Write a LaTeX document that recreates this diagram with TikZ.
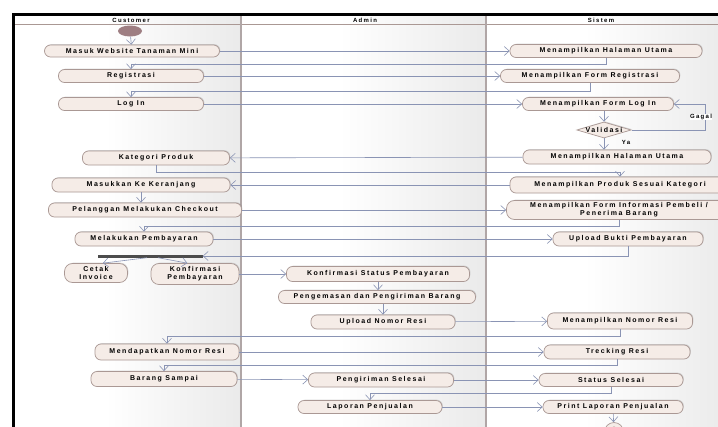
\documentclass[tikz,border=0pt]{standalone}
\usepackage{fontspec}
\newfontfamily\actfont{Liberation Sans}[LetterSpace=22]
\usetikzlibrary{arrows.meta,shapes.geometric,shadows}

\definecolor{actfill}{RGB}{245,236,231}
\definecolor{actline}{RGB}{170,152,148}
\definecolor{flowline}{RGB}{138,148,180}
\definecolor{lanesep}{RGB}{176,166,166}
\definecolor{startfill}{RGB}{158,126,130}
\pgfdeclarehorizontalshading{lane}{100bp}{color(0bp)=(white); color(45bp)=(white); color(100bp)=(black!15)}

\tikzset{
	act/.style={draw=actline, fill=actfill, rounded corners=6pt, line width=0.7pt, inner sep=0pt, align=center,
		font=\actfont\bfseries\fontsize{7}{8}\selectfont,
		drop shadow={shadow xshift=0.8pt, shadow yshift=0.8pt, opacity=0.3}},
	flow/.style={draw=flowline, line width=0.6pt, -{Straight Barb[length=5pt,width=9pt]}},
	lbl/.style={font=\actfont\bfseries\fontsize{6}{7}\selectfont, inner sep=0.5pt},
}

\begin{document}
\begin{tikzpicture}[x=1pt,y=1pt,yscale=-1,xscale=1]
	\useasboundingbox (0,0) rectangle (718,426);
	
	%Shape: Lanes
	\shade[shading=lane] (14,14) rectangle (241,430);
	\shade[shading=lane] (241,14) rectangle (486,430);
	\shade[shading=lane] (486,14) rectangle (730,430);
	\draw[actline, line width=0.7pt] (14,24) -- (730,24);
	\draw[lanesep, line width=2.5pt] (241,16) -- (241,430);
	\draw[lanesep, line width=2.5pt] (486,16) -- (486,430);
	\draw[black, line width=3pt] (13.5,430) -- (13.5,14) -- (730,14);
	
	% Text Node
	\node[lbl] (hcust) at (131,20) {Customer};
	\node[lbl] (hadm) at (365,20) {Admin};
	\node[lbl] (hsis) at (601,20) {Sistem};
	
	%Customer
	\node[ellipse, fill=startfill, minimum width=24pt, minimum height=11pt, inner sep=0pt] (start) at (130,31) {};
	\node[act, minimum width=175pt, minimum height=12pt] (masuk) at (132,51) {Masuk Website Tanaman Mini};
	\node[act, minimum width=145pt, minimum height=13pt] (regis) at (131,76) {Registrasi};
	\node[act, minimum width=145pt, minimum height=13pt] (login) at (131,104) {Log In};
	\node[act, minimum width=147pt, minimum height=14pt] (kategori) at (156,158) {Kategori Produk};
	\node[act, minimum width=178pt, minimum height=14pt] (keranjang) at (141,185) {Masukkan Ke Keranjang};
	\node[act, minimum width=193pt, minimum height=14pt] (checkout) at (145,210) {Pelanggan Melakukan Checkout};
	\node[act, minimum width=138pt, minimum height=14pt] (bayar) at (144,239) {Melakukan Pembayaran};
	\node[fill=black!70, minimum width=105pt, minimum height=3pt, inner sep=0pt] (bar) at (150,256) {};
	\node[act, rounded corners=8pt, minimum width=63pt, minimum height=19pt] (cetak) at (96,273) {Cetak\\Invoice};
	\node[act, rounded corners=8pt, minimum width=88pt, minimum height=21pt] (konfbayar) at (195,274) {Konfirmasi\\Pembayaran};
	\node[act, minimum width=144pt, minimum height=16pt] (dapatresi) at (167,352) {Mendapatkan Nomor Resi};
	\node[act, minimum width=146pt, minimum height=15pt] (sampai) at (164,379) {Barang Sampai};
	
	%Admin
	\node[act, minimum width=183pt, minimum height=15pt] (konfstatus) at (378,274) {Konfirmasi Status Pembayaran};
	\node[act, minimum width=197pt, minimum height=13pt] (kemas) at (377,297) {Pengemasan dan Pengiriman Barang};
	\node[act, minimum width=144pt, minimum height=14pt] (uploadresi) at (383,322) {Upload Nomor Resi};
	\node[act, minimum width=145pt, minimum height=14pt] (kirimselesai) at (381,380) {Pengiriman Selesai};
	\node[act, minimum width=144pt, minimum height=13pt] (laporan) at (370,407) {Laporan Penjualan};
	
	%Sistem
	\node[act, minimum width=192pt, minimum height=13pt] (halaman) at (606,51) {Menampilkan Halaman Utama};
	\node[act, minimum width=179pt, minimum height=13pt] (formregis) at (590,76) {Menampilkan Form Registrasi};
	\node[act, minimum width=151pt, minimum height=13pt] (formlogin) at (598,104) {Menampilkan Form Log In};
	\node[act, diamond, rounded corners=0pt, aspect=3.4, minimum width=54pt, minimum height=16pt] (validasi) at (604,130) {Validasi};
	\node[act, minimum width=188pt, minimum height=14pt] (halamandua) at (617,157) {Menampilkan Halaman Utama};
	\node[act, minimum width=220pt, minimum height=16pt] (produk) at (620,185) {Menampilkan Produk Sesuai Kategori};
	\node[act, rounded corners=8pt, minimum width=225pt, minimum height=19pt] (forminfo) at (619,210) {Menampilkan Form Informasi Pembeli /\\Penerima Barang};
	\node[act, minimum width=150pt, minimum height=14pt] (bukti) at (628,239) {Upload Bukti Pembayaran};
	\node[act, minimum width=145pt, minimum height=16pt] (tampilresi) at (620,321) {Menampilkan Nomor Resi};
	\node[act, minimum width=146pt, minimum height=14pt] (trecking) at (617,352) {Trecking Resi};
	\node[act, minimum width=144pt, minimum height=13pt] (status) at (611,380) {Status Selesai};
	\node[act, minimum width=140pt, minimum height=13pt] (print) at (613,407) {Print Laporan Penjualan};
	\node[circle, draw=actline, fill=actfill, line width=0.7pt, minimum size=19pt, inner sep=0pt] (akhir) at (614,432) {};
	\node[circle, fill=startfill, minimum size=11pt, inner sep=0pt] at (akhir) {};
	
	%Flows
	\draw[flow] (start) -- (masuk);
	\draw[flow] (masuk) -- (halaman);
	\draw[flow] (halaman.south) -- ++(0,6) -| (regis.north);
	\draw[flow] (regis) -- (formregis);
	\draw[flow] (formregis.south) -- ++(0,8) -| (login.north);
	\draw[flow] (login) -- (formlogin);
	\draw[flow] (formlogin.south -| validasi.north) -- (validasi.north);
	\coordinate (gagal) at (705,104);
	\draw[flow] (validasi.east) -| (gagal) -- (formlogin.east);
	\node[lbl, fill=white] (tgagal) at (701,117) {Gagal};
	\draw[flow] (validasi.south) -- (validasi.south |- halamandua.north);
	\node[lbl] (tya) at (626,142) {Ya};
	\draw[flow] (halamandua) -- (kategori);
	\draw[flow] (kategori.south) -- ++(0,7) -| (produk.north);
	\draw[flow] (produk.west) -- (keranjang.east);
	\draw[flow] (keranjang.south) -- (keranjang.south |- checkout.north);
	\draw[flow] (checkout) -- (forminfo);
	\draw[flow] (forminfo.south) -- ++(0,6) -| (bayar.north);
	\draw[flow] (bayar) -- (bukti);
	\draw[flow] (bukti.south) |- (bar.east);
	\draw[flow] ([xshift=-3pt]bar.south) -- (cetak.55);
	\draw[flow] ([xshift=8pt]bar.south) -- (konfbayar.125);
	\draw[flow] (konfbayar) -- (konfstatus);
	\draw[flow] (konfstatus.south) -- (konfstatus.south |- kemas.north);
	\draw[flow] (kemas.south -| uploadresi.north) -- (uploadresi.north);
	\draw[flow] (uploadresi) -- (tampilresi);
	\draw[flow] (tampilresi.south) -- ++(0,7) -| (dapatresi.north);
	\draw[flow] (dapatresi) -- (trecking);
	\draw[flow] (trecking.south) -- ++(0,6) -| (sampai.north);
	\draw[flow] (sampai) -- (kirimselesai);
	\draw[flow] (kirimselesai) -- (status);
	\draw[flow] (status.south) -- ++(0,6) -| (laporan.north);
	\draw[flow] (laporan) -- (print);
	\draw[flow] (print) -- (akhir);
	
\end{tikzpicture}
\end{document}
